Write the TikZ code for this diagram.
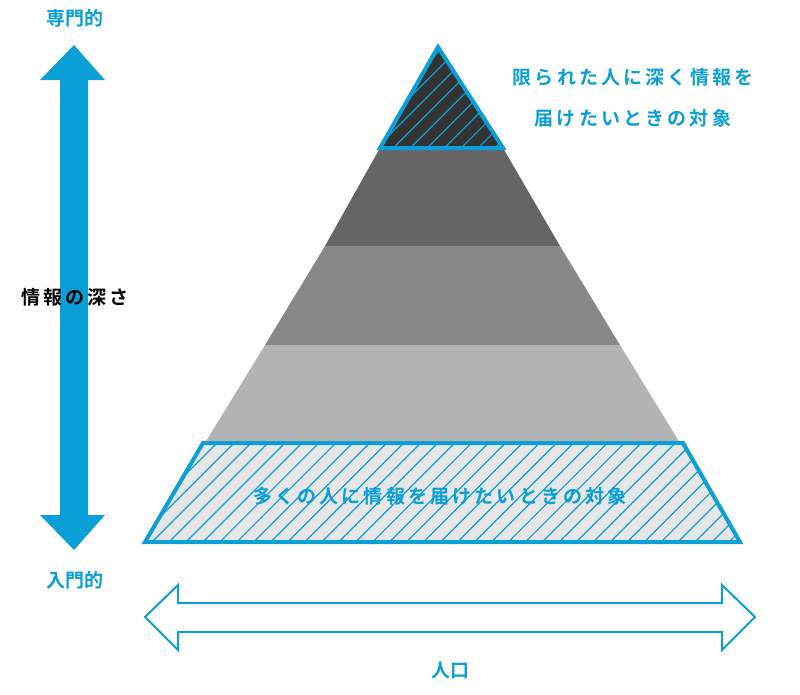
\documentclass[tikz,border=0pt]{standalone}
\usepackage{fontspec}
\setmainfont{Noto Sans CJK JP Bold}
\usetikzlibrary{patterns.meta}
\definecolor{bl}{HTML}{0A9FD6}
\definecolor{g1}{HTML}{656565}
\definecolor{g2}{HTML}{888888}
\definecolor{g3}{HTML}{B3B3B3}
\definecolor{g0}{HTML}{333333}
\definecolor{g4}{HTML}{E6E6E6}
\tikzset{lbl/.style={font=\fontsize{19}{22}\selectfont, text=bl},
 hatch/.style={pattern={Lines[angle=45,distance=12pt,line width=1.2pt]},pattern color=bl}}
\begin{document}
\begin{tikzpicture}[x=1pt,y=-1pt]
\useasboundingbox (0,0) rectangle (800,694);
% layers
\fill[g1] (380,148) -- (503,148) -- (560,246) -- (325,246) -- cycle;
\fill[g2] (325,246) -- (560,246) -- (620,345) -- (265,345) -- cycle;
\fill[g3] (265,345) -- (620,345) -- (680,443) -- (205,443) -- cycle;
\fill[g0] (438,47) -- (503,148) -- (380,148) -- cycle;
\path[hatch] (438,47) -- (503,148) -- (380,148) -- cycle;
\draw[bl,line width=4pt,line join=miter] (438,47) -- (503,148) -- (380,148) -- cycle;
\fill[g4] (203,443) -- (683,443) -- (740,542) -- (145,542) -- cycle;
\path[hatch] (203,443) -- (683,443) -- (740,542) -- (145,542) -- cycle;
\draw[bl,line width=4pt,line join=miter] (203,443) -- (683,443) -- (740,542) -- (145,542) -- cycle;
% vertical arrow
\fill[bl] (74,45) -- (105,80) -- (88,80) -- (88,515) -- (105,515) -- (74,550) -- (40,515) -- (60,515) -- (60,80) -- (40,80) -- cycle;
% horizontal outline arrow
\draw[bl,line width=2pt] (145,617) -- (178,585) -- (178,603) -- (722,603) -- (722,585) -- (755,617) -- (722,650) -- (722,632) -- (178,632) -- (178,650) -- cycle;
% texts
\node[lbl] (t1) at (75,18) {専門的};
\node[lbl] (t2) at (75,580) {入門的};
\node[lbl,text=black] (t3) at (75,297) {情\,報\,の\,深\,さ};
\node[lbl] (t4) at (450,670) {人口};
\node[lbl] (t5) at (633,77) {限\,ら\,れ\,た\,人\,に\,深\,く\,情\,報\,を};
\node[lbl] (t6) at (633,118) {届\,け\,た\,い\,と\,き\,の\,対\,象};
\node[lbl] (t7) at (440,496) {多\,く\,の\,人\,に\,情\,報\,を\,届\,け\,た\,い\,と\,き\,の\,対\,象};
\end{tikzpicture}
\end{document}
